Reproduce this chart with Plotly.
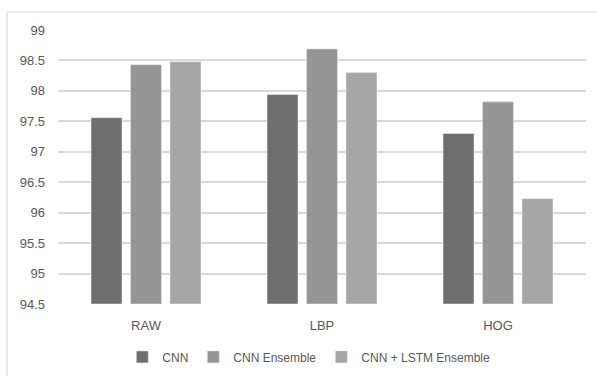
import plotly.graph_objects as go

categories = ["RAW", "LBP", "HOG"]
cnn = [97.56, 97.94, 97.30]
cnn_ensemble = [98.43, 98.69, 97.82]
cnn_lstm_ensemble = [98.48, 98.30, 96.23]

series_names = ["CNN", "CNN Ensemble", "CNN + LSTM Ensemble"]
series_colors = ["#6e6e6e", "#959595", "#a6a6a6"]
y_ticks = [94.5, 95, 95.5, 96, 96.5, 97, 97.5, 98, 98.5, 99]
axis_floor = 94.5

font_family = "Liberation Sans, Arial, sans-serif"
text_color = "#595959"

fig = go.Figure()
for name, vals, color in zip(series_names, [cnn, cnn_ensemble, cnn_lstm_ensemble], series_colors):
    fig.add_trace(go.Bar(
        x=categories,
        y=[v - axis_floor for v in vals],
        base=axis_floor,
        name=name,
        marker=dict(color=color, line=dict(color="#e6e6e6", width=0.6)),
        hovertemplate="%{x}: %{customdata}<extra>" + name + "</extra>",
        customdata=vals,
    ))

fig.update_layout(
    width=597, height=376,
    margin=dict(l=58, r=11, t=30, b=72, autoexpand=False),
    paper_bgcolor="white", plot_bgcolor="white",
    barmode="group", bargap=0.327, bargroupgap=0.215,
    font=dict(family=font_family, size=13, color=text_color),
    xaxis=dict(showgrid=False, showline=False, ticks="", ticklabelstandoff=12,
               tickfont=dict(size=13, color=text_color)),
    yaxis=dict(range=[94.5, 99], tickvals=y_ticks, ticktext=[f"{t:g}" for t in y_ticks],
               showgrid=True, gridcolor="#d9d9d9", gridwidth=1.5,
               zeroline=False, showline=False, ticks="", ticklabelstandoff=12,
               tickfont=dict(size=13, color=text_color)),
    legend=dict(orientation="h", x=0.475, xanchor="center", y=-0.193, yanchor="middle",
                font=dict(size=12, color=text_color), itemwidth=30, tracegroupgap=0),
    showlegend=True,
    shapes=[dict(type="rect", xref="paper", yref="paper",
                 x0=-0.0966, x1=1.04, y0=-0.35, y1=1.0657,
                 line=dict(color="#d9d9d9", width=1.2), fillcolor="rgba(0,0,0,0)", layer="below")],
)

fig.write_html("out.html")
